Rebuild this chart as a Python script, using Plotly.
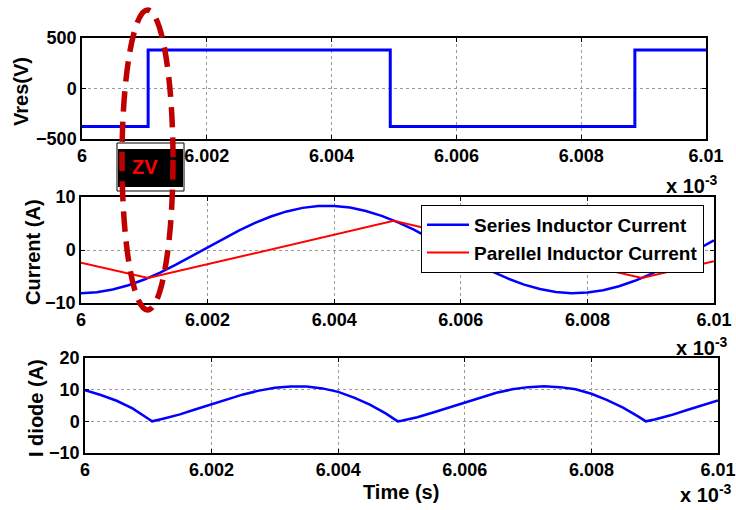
import plotly.graph_objects as go

W, H = 736, 510

# ---- data (time axis in units of 1e-3 s) ----
vres_t = [6.0, 6.00106, 6.00494, 6.00886, 6.01]
vres_v = [-375, 380, -375, 380, 380]

t = [6.0, 6.00025, 6.0005, 6.00075, 6.0010, 6.00106, 6.00125, 6.0015, 6.00175,
     6.0020, 6.00225, 6.0025, 6.00275, 6.0030, 6.00325, 6.0035, 6.00375, 6.0040,
     6.00425, 6.0045, 6.00475, 6.00494, 6.0050, 6.00525, 6.0055, 6.00575, 6.0060,
     6.00625, 6.0065, 6.00675, 6.0070, 6.00725, 6.0075, 6.00775, 6.0080, 6.00825,
     6.0085, 6.00875, 6.00886, 6.0090, 6.00925, 6.0095, 6.00975, 6.0100]

series_i = [-8.15, -7.97, -7.46, -6.65, -5.57, -5.27, -4.25, -2.76, -1.16, 0.50,
            2.14, 3.70, 5.11, 6.32, 7.28, 7.95, 8.30, 8.32, 8.01, 7.37, 6.45, 5.57,
            5.27, 3.88, 2.33, 0.70, -0.96, -2.58, -4.07, -5.41, -6.53, -7.37, -7.92,
            -8.15, -8.03, -7.58, -6.83, -5.81, -5.30, -4.56, -3.09, -1.48, 0.17, 1.82]

par_t = [6.0, 6.00106, 6.00494, 6.00886, 6.01]
par_i = [-2.40, -5.30, 5.50, -5.30, -2.13]

diode_i = [9.8, 8.3, 6.5, 4.1, 0.8, 0.0, 0.9, 2.2, 3.8, 5.3, 7.0, 8.5, 9.7, 10.6,
           11.0, 11.0, 10.4, 9.3, 7.5, 5.3, 2.5, 0.0, 0.2, 1.3, 2.8, 4.4, 6.0, 7.6,
           9.0, 10.1, 10.8, 11.1, 10.8, 10.1, 8.7, 6.7, 4.3, 1.4, 0.0, 0.6, 1.9, 3.5,
           5.1, 6.6]

x_ticks = [6.0, 6.002, 6.004, 6.006, 6.008, 6.01]
x_ticktext = ["6", "6.002", "6.004", "6.006", "6.008", "6.01"]

FONT = "Liberation Sans, Arial, sans-serif"

def px(x):
    return x / W

def py(y):
    return 1 - y / H

fig = go.Figure()
fig.add_trace(go.Scatter(x=vres_t, y=vres_v, mode="lines", line=dict(color="#0000FF", width=3, shape="hv"),
                         xaxis="x", yaxis="y", showlegend=False))
fig.add_trace(go.Scatter(x=t, y=series_i, mode="lines", line=dict(color="#0000FF", width=2.5),
                         xaxis="x2", yaxis="y2", name="Series Inductor Current"))
fig.add_trace(go.Scatter(x=par_t, y=par_i, mode="lines", line=dict(color="#FF0000", width=2),
                         xaxis="x2", yaxis="y2", name="Parellel Inductor Current"))
fig.add_trace(go.Scatter(x=t, y=diode_i, mode="lines", line=dict(color="#0000FF", width=2.5),
                         xaxis="x3", yaxis="y3", showlegend=False))

common_x = dict(range=[6.0, 6.01], tickvals=x_ticks, ticktext=x_ticktext,
                showline=True, linecolor="black", linewidth=1.5, mirror="ticks",
                ticks="inside", ticklen=4, tickcolor="black",
                showgrid=True, gridcolor="#9a9a9a", griddash="dot", gridwidth=1,
                zeroline=False, automargin=False,
                tickfont=dict(family=FONT, size=18, color="black", weight="bold"))
common_y = dict(showline=True, linecolor="black", linewidth=1.5, mirror="ticks",
                ticks="inside", ticklen=4, tickcolor="black",
                showgrid=True, gridcolor="#9a9a9a", griddash="dot", gridwidth=1,
                zeroline=False, automargin=False,
                tickfont=dict(family=FONT, size=18, color="black", weight="bold"))

fig.update_layout(
    width=W, height=H, autosize=False,
    margin=dict(l=0, r=0, t=0, b=0, pad=0, autoexpand=False),
    paper_bgcolor="white", plot_bgcolor="white",
    xaxis=dict(domain=[px(82), px(706)], anchor="y", **common_x),
    yaxis=dict(domain=[py(139), py(38)], anchor="x", range=[-500, 500],
               tickvals=[-500, 0, 500], **common_y),
    xaxis2=dict(domain=[px(81), px(714)], anchor="y2", **common_x),
    yaxis2=dict(domain=[py(303), py(197)], anchor="x2", range=[-10, 10],
                tickvals=[-10, 0, 10], **common_y),
    xaxis3=dict(domain=[px(85), px(718)], anchor="y3", **common_x),
    yaxis3=dict(domain=[py(453), py(358)], anchor="x3", range=[-10, 20],
                tickvals=[-10, 0, 10, 20], **common_y),
    legend=dict(x=px(421), y=py(205), xanchor="left", yanchor="top",
                bgcolor="white", bordercolor="black", borderwidth=1, itemwidth=42,
                font=dict(family=FONT, size=19, color="black", weight="bold")),
)

anns = []
def ann(x, y, text, size=20, angle=0, color="black", xanchor="center"):
    anns.append(dict(x=px(x), y=py(y), xref="paper", yref="paper", text=text,
                     showarrow=False, textangle=angle, xanchor=xanchor, yanchor="middle",
                     font=dict(family=FONT, size=size, color=color, weight="bold")))

ann(21, 92, "Vres(V)", angle=-90)
ann(33, 252, "Current (A)", angle=-90)
ann(36, 408, "I diode (A)", angle=-90)
ann(401, 492, "Time (s)")
ann(720, 184, "x 10<sup>-3</sup>", size=20, xanchor="right")
ann(730, 346, "x 10<sup>-3</sup>", size=20, xanchor="right")
ann(734, 493, "x 10<sup>-3</sup>", size=20, xanchor="right")
ann(145, 167, "ZV", size=20, color="#FF0000")
fig.update_layout(annotations=anns)

shapes = [
    dict(type="rect", xref="paper", yref="paper", x0=px(117), x1=px(184), y0=py(191), y1=py(143),
         line=dict(color="black", width=1), fillcolor="white", layer="above"),
    dict(type="rect", xref="paper", yref="paper", x0=px(118), x1=px(183), y0=py(187), y1=py(149),
         line=dict(color="black", width=0), fillcolor="black", layer="above"),
    dict(type="circle", xref="paper", yref="paper", x0=px(122), x1=px(173), y0=py(310), y1=py(10),
         line=dict(color="#C00000", width=5.5, dash="20px,10px"), layer="above"),
]
fig.update_layout(shapes=shapes)

fig.write_html("out.html", config={"responsive": False},
               post_script="document.body.style.margin='0';document.body.style.overflow='hidden';")
